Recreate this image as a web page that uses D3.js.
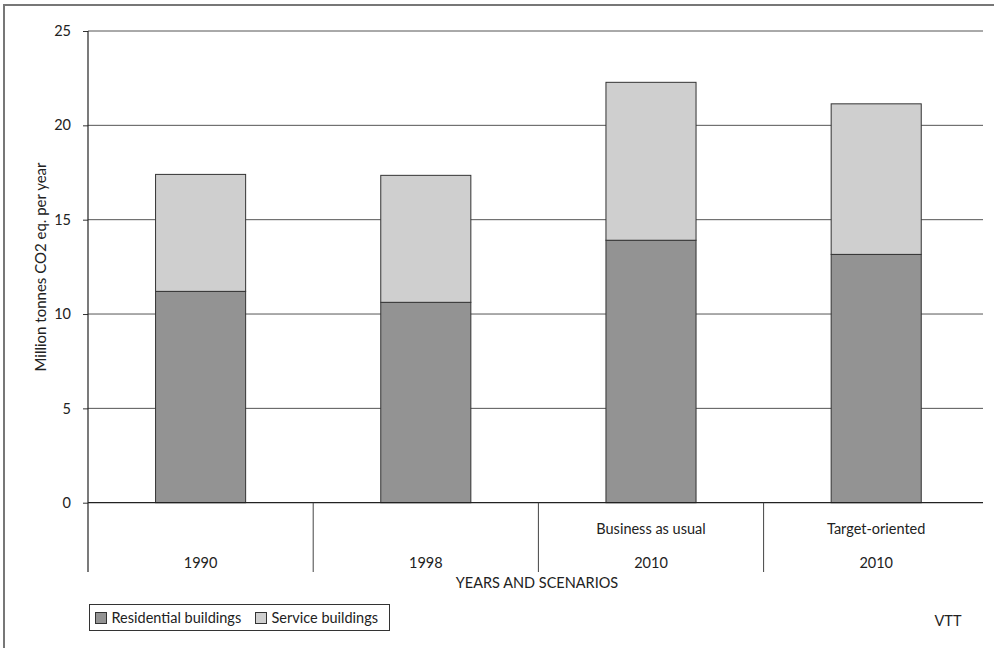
<!DOCTYPE html>
<html>
<head>
<meta charset="utf-8">
<script src="https://cdn.jsdelivr.net/npm/d3@7/dist/d3.min.js"></script>
<style>
  html, body { margin: 0; padding: 0; background: #fff; }
  svg { display: block; font-family: Lato, "Open Sans", sans-serif; }
</style>
</head>
<body>
<svg id="chart" width="994" height="648"></svg>
<script>
// Category rows: year labels under the bars, scenario names above them
const years = ["1990", "1998", "2010", "2010"];
const scenarios = ["", "", "Business as usual", "Target-oriented"];
// Emissions, million tonnes CO2 eq. per year
const residential = [11.2, 10.62, 13.91, 13.16];
const service = [6.2, 6.73, 8.37, 7.98];
const seriesNames = ["Residential buildings", "Service buildings"];
const seriesColors = ["#939393", "#cfcfcf"];
const yTicks = [0, 5, 10, 15, 20, 25];

const FS = 14.5;
const svg = d3.select("#chart");

// outer frame
svg.append("rect")
  .attr("x", 4).attr("y", 5).attr("width", 1010).attr("height", 700)
  .attr("fill", "none").attr("stroke", "#777").attr("stroke-width", 2);

const plotLeft = 88, bandRight = 988.8, plotTop = 31, plotBottom = 502.7, axisBottom = 572;
const plotRight = 983;

const idx = d3.range(years.length);
const x = d3.scaleBand().domain(idx).range([plotLeft, bandRight]).paddingInner(0.6).paddingOuter(0.3);
const y = d3.scaleLinear().domain([0, 25]).range([plotBottom, plotTop]);

// horizontal grid lines
svg.append("g").selectAll("line").data(yTicks.filter(t => t > 0)).join("line")
  .attr("x1", plotLeft).attr("x2", plotRight)
  .attr("y1", d => y(d)).attr("y2", d => y(d))
  .attr("stroke", "#555").attr("stroke-width", 1);

// y axis
const yAxis = svg.append("g").attr("transform", `translate(${plotLeft},0)`)
  .call(d3.axisLeft(y).tickValues(yTicks).tickSize(5).tickPadding(12));
yAxis.select(".domain").remove();
yAxis.selectAll("line").attr("stroke", "#333");
yAxis.selectAll("text").attr("font-size", FS).attr("fill", "#222")
  .attr("font-family", "Lato, sans-serif");

// stacked data
const stacked = d3.stack().keys([0, 1])
  .value((i, k) => (k === 0 ? residential : service)[i])(idx);

svg.append("g").selectAll("g").data(stacked).join("g")
  .attr("fill", (d, k) => seriesColors[k])
  .selectAll("rect").data(d => d.map((v, i) => ({ v, i }))).join("rect")
  .attr("x", d => x(d.i))
  .attr("width", x.bandwidth())
  .attr("y", d => y(d.v[1]))
  .attr("height", d => y(d.v[0]) - y(d.v[1]))
  .attr("stroke", "#333").attr("stroke-width", 1);

// axis lines
svg.append("line").attr("x1", plotLeft).attr("x2", plotLeft).attr("y1", plotTop).attr("y2", axisBottom)
  .attr("stroke", "#222").attr("stroke-width", 1.2);
svg.append("line").attr("x1", plotLeft).attr("x2", plotRight).attr("y1", plotBottom).attr("y2", plotBottom)
  .attr("stroke", "#222").attr("stroke-width", 1.2);

// category dividers between bands
const step = x.step();
const cx = i => x(i) + x.bandwidth() / 2;
svg.append("g").selectAll("line").data(idx.slice(1)).join("line")
  .attr("x1", i => cx(i) - step / 2)
  .attr("x2", i => cx(i) - step / 2)
  .attr("y1", plotBottom).attr("y2", axisBottom)
  .attr("stroke", "#444").attr("stroke-width", 1);

svg.append("g").selectAll("text").data(idx).join("text")
  .attr("x", cx).attr("y", 568)
  .attr("text-anchor", "middle").attr("font-size", FS).attr("fill", "#222")
  .text(i => years[i]);
svg.append("g").selectAll("text").data(idx.filter(i => scenarios[i])).join("text")
  .attr("x", cx).attr("y", 534)
  .attr("text-anchor", "middle").attr("font-size", FS).attr("fill", "#222")
  .text(i => scenarios[i]);

// axis titles
svg.append("text").attr("x", 537).attr("y", 588)
  .attr("text-anchor", "middle").attr("font-size", FS).attr("fill", "#222")
  .text("YEARS AND SCENARIOS");
svg.append("text")
  .attr("transform", "translate(46,267) rotate(-90)")
  .attr("text-anchor", "middle").attr("font-size", 15).attr("fill", "#222")
  .text("Million tonnes CO2 eq. per year");

// legend
const lg = svg.append("g");
lg.append("rect").attr("x", 89.5).attr("y", 604.5).attr("width", 300).attr("height", 26)
  .attr("fill", "#fff").attr("stroke", "#333").attr("stroke-width", 1);
const legendX = [95.5, 255.5];
seriesNames.forEach((name, k) => {
  lg.append("rect").attr("x", legendX[k]).attr("y", 612.5).attr("width", 11).attr("height", 11)
    .attr("fill", seriesColors[k]).attr("stroke", "#333").attr("stroke-width", 1);
  lg.append("text").attr("x", legendX[k] + 16).attr("y", 623)
    .attr("font-size", FS).attr("fill", "#222").text(name);
});

svg.append("text").attr("x", 948).attr("y", 626)
  .attr("text-anchor", "middle").attr("font-size", FS).attr("fill", "#222")
  .text("VTT");
</script>
</body>
</html>
